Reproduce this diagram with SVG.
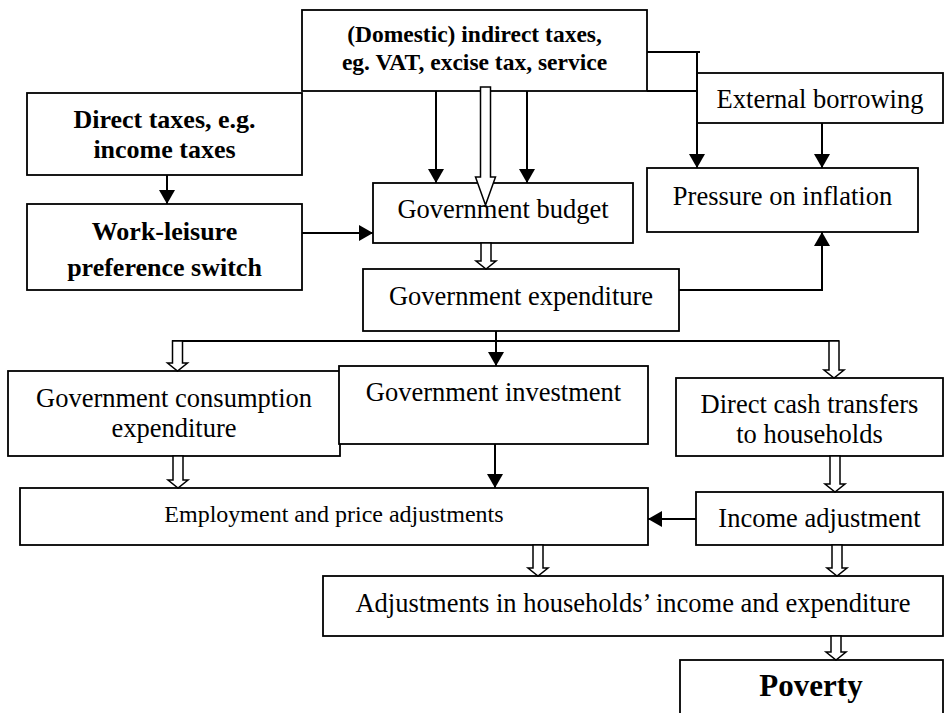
<svg xmlns="http://www.w3.org/2000/svg" width="945" height="713" viewBox="0 0 945 713">
<defs>
<marker id="ah" viewBox="0 0 14 16" refX="14" refY="8" markerWidth="14" markerHeight="16" markerUnits="userSpaceOnUse" orient="auto">
<path d="M0,0 L14,8 L0,16 z" fill="#000"/>
</marker>
<style>
.box{fill:#fff;stroke:#000;stroke-width:1.8}
.t{font-family:"Liberation Serif","Times New Roman",serif;font-size:26.5px;fill:#000;text-anchor:middle}
.b{font-weight:bold;font-size:26px}
.ln{fill:none;stroke:#000;stroke-width:2}
.arr{fill:none;stroke:#000;stroke-width:2;marker-end:url(#ah)}
.hol{fill:#fff;stroke:#000;stroke-width:1.5;stroke-linejoin:miter}
</style>
</defs>
<rect width="945" height="713" fill="#fff"/>
<g id="indirect"><rect class="box" x="302" y="10" width="345" height="81"/>
<text class="t b" style="font-size:23.5px" x="474.5" y="42">(Domestic) indirect taxes,</text>
<text class="t b" style="font-size:23.5px" x="474.5" y="70">eg. VAT, excise tax, service</text></g>
<g id="direct"><rect class="box" x="27" y="93" width="275" height="82"/>
<text class="t b" x="164.5" y="128">Direct taxes, e.g.</text>
<text class="t b" x="164.5" y="158">income taxes</text></g>
<g id="work"><rect class="box" x="27" y="204" width="275" height="86"/>
<text class="t b" x="164.5" y="240">Work-leisure</text>
<text class="t b" x="164.5" y="276">preference switch</text></g>
<g id="budget"><rect class="box" x="373" y="183" width="260" height="60"/>
<text class="t" x="503" y="218">Government budget</text></g>
<g id="external"><rect class="box" x="697" y="73" width="246" height="50"/>
<text class="t" x="820" y="108">External borrowing</text></g>
<g id="pressure"><rect class="box" x="647" y="168" width="271" height="64"/>
<text class="t" x="782.5" y="205">Pressure on inflation</text></g>
<g id="expenditure"><rect class="box" x="363" y="269" width="316" height="62"/>
<text class="t" x="521" y="305">Government expenditure</text></g>
<g id="consumption"><rect class="box" x="8" y="371" width="332" height="85"/>
<text class="t" x="174" y="407">Government consumption</text>
<text class="t" x="174" y="437">expenditure</text></g>
<g id="investment"><rect class="box" x="339" y="366" width="309" height="78"/>
<text class="t" x="493.5" y="401">Government investment</text></g>
<g id="cash"><rect class="box" x="676" y="378" width="267" height="78"/>
<text class="t" x="809.5" y="413">Direct cash transfers</text>
<text class="t" x="809.5" y="443">to households</text></g>
<g id="employment"><rect class="box" x="20" y="488" width="628" height="57"/>
<text class="t" style="font-size:24px" x="334" y="522">Employment and price adjustments</text></g>
<g id="income"><rect class="box" x="696" y="492" width="247" height="53"/>
<text class="t" x="819.5" y="527">Income adjustment</text></g>
<g id="adjustments"><rect class="box" x="323" y="576" width="620" height="60"/>
<text class="t" x="633" y="612">Adjustments in households’ income and expenditure</text></g>
<g id="poverty"><rect class="box" x="680" y="660" width="263" height="60"/>
<text class="t b" style="font-size:31px" x="811" y="696">Poverty</text></g>
<g id="connectors">
<path class="ln" d="M647,52 H700"/>
<path class="ln" d="M647,91 H697"/>
<path class="arr" d="M697,52 V168"/>
<path class="arr" d="M822,123 V168"/>
<path class="arr" d="M679,290 H822 V232"/>
<path class="arr" d="M436,91 V183"/>
<path class="arr" d="M527,91 V183"/>
<path class="hol" d="M480.5,87 H490.5 V177 H495.5 L485.5,205 L475.5,177 H480.5 Z"/>
<path class="arr" d="M167,175 V204"/>
<path class="arr" d="M302,233 H373"/>
<path class="hol" d="M481,243 H491 V261 H496 L486,269 L476,261 H481 Z"/>
<path class="arr" d="M496,331 V366"/>
<path class="ln" d="M172,341 H839"/>
<path class="hol" d="M172.5,341 H182.5 V363 H187.5 L177.5,371 L167.5,363 H172.5 Z"/>
<path class="hol" d="M829,341 H839 V370 H844 L834,378 L824,370 H829 Z"/>
<path class="hol" d="M173,456 H183 V480 H188 L178,488 L168,480 H173 Z"/>
<path class="hol" d="M830,456 H840 V484 H845 L835,492 L825,484 H830 Z"/>
<path class="arr" d="M495,444 V488"/>
<path class="arr" d="M696,519 H648"/>
<path class="hol" d="M533,545 H543 V568 H548 L538,576 L528,568 H533 Z"/>
<path class="hol" d="M832,545 H842 V568 H847 L837,576 L827,568 H832 Z"/>
<path class="hol" d="M831,636 H841 V652 H846 L836,660 L826,652 H831 Z"/>
</g>
</svg>
